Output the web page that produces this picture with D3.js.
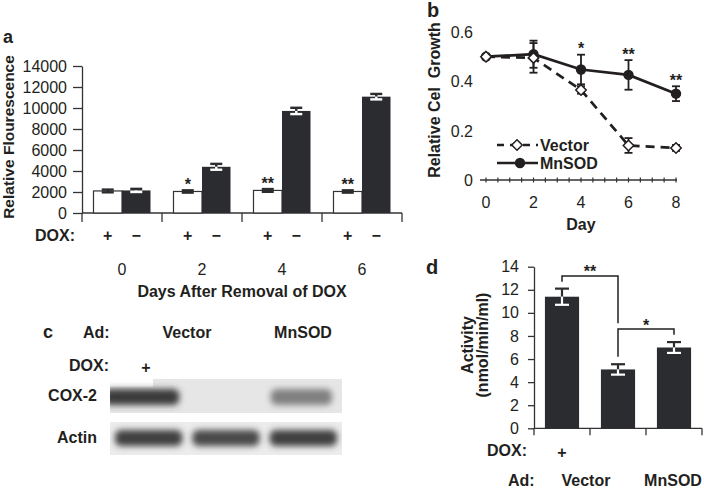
<!DOCTYPE html>
<html><head><meta charset="utf-8">
<script src="https://cdn.jsdelivr.net/npm/d3@7"></script>
<style>
body{margin:0;background:#fff}
svg{display:block}
text{font-family:"Liberation Sans",Arial,Helvetica,sans-serif;fill:#231f20}
</style></head><body>
<svg id="c" width="704" height="488"></svg>
<script>
// ---------- Panel a data ----------
const daysA = ["0","2","4","6"];
const doxA = ["+","\u2212"];
const fluorPlus = [2100,2050,2150,2050];
const fluorPlusErr = [130,110,130,110];
const fluorMinus = [2150,4400,9720,11080];
const fluorMinusErr = [150,280,300,260];
const sigA = ["","*","**","**"];
const fluorTicks = [0,2000,4000,6000,8000,10000,12000,14000];

// ---------- Panel b data ----------
const daysB = [0,2,4,6,8];
const growthVector = [0.50,0.495,0.365,0.14,0.13];
const growthVectorErr = [0,0.06,0.015,0.03,0.012];
const growthMnSOD = [0.50,0.51,0.448,0.426,0.35];
const growthMnSODErr = [0,0.055,0.06,0.06,0.03];
const sigB = ["","","*","**","**"];
const growthTicks = [0,0.2,0.4,0.6];
const dayTicks = [0,2,4,6,8];

// ---------- Panel c data ----------
const lanesC = ["Vector +DOX","Vector","MnSOD"];
const cox2Band = [0.92,0.0,0.55];
const actinBand = [0.9,0.85,0.9];

// ---------- Panel d data ----------
const groupsD = ["Vector +DOX","Vector","MnSOD"];
const activity = [11.4,5.1,7.0];
const activityErr = [0.7,0.45,0.47];
const activityTicks = [0,2,4,6,8,10,12,14];
const bracketsD = [
  {a:0,b:1,level:13.2,endA:12.7,endB:9.1,label:"**"},
  {a:1,b:2,level:8.6,endA:6.2,endB:8.1,label:"*"}
];

const INK = "#231f20", BAR = "#2b2c2f", AX = "#333";
const svg = d3.select("#c");
svg.append("rect").attr("width",704).attr("height",488).attr("fill","#fff");
const defs = svg.append("defs");
defs.append("filter").attr("id","blur").attr("x","-30%").attr("y","-60%").attr("width","160%").attr("height","220%")
  .append("feGaussianBlur").attr("stdDeviation",3.2);

function txt(g,x,y,s,opts={}){
  const t=g.append("text").attr("x",x).attr("y",y).text(s)
    .style("font-size",(opts.size||16)+"px").attr("font-weight",opts.bold?"bold":"normal")
    .attr("text-anchor",opts.anchor||"start");
  if(opts.rot) t.attr("transform",`rotate(-90,${x},${y})`);
  return t;
}
function errBar(g,x,yTop,yMid,yBot,capW,cTop,cBot,sw){
  g.append("line").attr("x1",x).attr("x2",x).attr("y1",yTop).attr("y2",yMid).attr("stroke",cTop).attr("stroke-width",sw);
  g.append("line").attr("x1",x-capW/2).attr("x2",x+capW/2).attr("y1",yTop).attr("y2",yTop).attr("stroke",cTop).attr("stroke-width",sw);
  g.append("line").attr("x1",x).attr("x2",x).attr("y1",yMid).attr("y2",yBot).attr("stroke",cBot).attr("stroke-width",sw);
  g.append("line").attr("x1",x-capW/2).attr("x2",x+capW/2).attr("y1",yBot).attr("y2",yBot).attr("stroke",cBot).attr("stroke-width",sw);
}

// ================= Panel a =================
(function(){
  const g = svg.append("g");
  const yA = d3.scaleLinear().domain([0,14000]).range([213,66]);
  const xA = d3.scaleBand().domain(daysA).range([82,402]);
  const xA1 = d3.scaleBand().domain(doxA).range([11.5,68.5]);
  const ax = g.append("g").attr("transform","translate(82,0)")
    .call(d3.axisLeft(yA).tickValues(fluorTicks).tickSize(9).tickPadding(6).tickSizeOuter(0).tickFormat(d3.format("d")));
  ax.attr("font-size",null).attr("font-family",null);
  ax.selectAll("path,line").attr("stroke",AX).attr("stroke-width",1.3);
  ax.selectAll("text").style("font-size","16px").attr("fill",INK);
  // x axis
  g.append("line").attr("x1",82).attr("x2",402).attr("y1",213).attr("y2",213).attr("stroke",AX).attr("stroke-width",1.3);
  const bounds = daysA.map(d=>xA(d)).concat([xA.range()[1]]);
  bounds.forEach(b=>g.append("line").attr("x1",b).attr("x2",b).attr("y1",213).attr("y2",222).attr("stroke",AX).attr("stroke-width",1.3));
  daysA.forEach((d,i)=>{
    const x0 = xA(d), bw = xA1.bandwidth();
    const xp = x0+xA1("+"), xm = x0+xA1("\u2212");
    g.append("rect").attr("x",xp).attr("y",yA(fluorPlus[i])).attr("width",bw).attr("height",yA(0)-yA(fluorPlus[i]))
      .attr("fill","#fff").attr("stroke",AX).attr("stroke-width",1.2);
    g.append("rect").attr("x",xm).attr("y",yA(fluorMinus[i])).attr("width",bw).attr("height",yA(0)-yA(fluorMinus[i]))
      .attr("fill",BAR);
    errBar(g,xp+bw/2,yA(fluorPlus[i]+fluorPlusErr[i]),yA(fluorPlus[i]),yA(fluorPlus[i]-fluorPlusErr[i]),12,BAR,BAR,2.4);
    errBar(g,xm+bw/2,yA(fluorMinus[i]+fluorMinusErr[i]),yA(fluorMinus[i]),yA(fluorMinus[i]-fluorMinusErr[i]),12,BAR,"#fff",2.4);
    if(sigA[i]) txt(g,xp+bw/2,yA(fluorPlus[i]+fluorPlusErr[i])-0.5,sigA[i],{bold:true,anchor:"middle"});
    txt(g,xp+bw/2,241,"+",{bold:true,anchor:"middle"});
    txt(g,xm+bw/2,241,"\u2212",{bold:true,anchor:"middle"});
    txt(g,x0+xA.bandwidth()/2,275,d,{anchor:"middle"});
  });
  txt(g,35,241,"DOX:",{bold:true});
  txt(g,242,297,"Days After Removal of DOX",{bold:true,anchor:"middle"});
  txt(g,14,137,"Relative Flourescence",{bold:true,anchor:"middle",rot:true,size:15.5});
  txt(g,8,43,"a",{bold:true,anchor:"middle",size:18});
})();

// ================= Panel b =================
(function(){
  const g = svg.append("g");
  const xB = d3.scaleLinear().domain([0,8]).range([486,676]);
  const yB = d3.scaleLinear().domain([0,0.6]).range([180,32]);
  g.append("line").attr("x1",480).attr("x2",677).attr("y1",yB(0)).attr("y2",yB(0)).attr("stroke",AX).attr("stroke-width",1.3);
  d3.range(0,8.01,0.5).forEach(t=>g.append("line").attr("x1",xB(t)).attr("x2",xB(t)).attr("y1",yB(0)-2.5).attr("y2",yB(0)+2.5).attr("stroke",AX).attr("stroke-width",1.2));
  dayTicks.forEach(t=>txt(g,xB(t),208,String(t),{anchor:"middle"}));
  growthTicks.forEach(t=>txt(g,473,yB(t)+6,t===0?"0":d3.format(".1f")(t),{anchor:"end"}));
  const line = d3.line().x((d,i)=>xB(daysB[i])).y(d=>yB(d));
  g.append("path").attr("d",line(growthMnSOD)).attr("fill","none").attr("stroke",INK).attr("stroke-width",2.7);
  g.append("path").attr("d",line(growthVector)).attr("fill","none").attr("stroke",INK).attr("stroke-width",2.7).attr("stroke-dasharray","9,6");
  daysB.forEach((d,i)=>{
    const x=xB(d);
    if(growthMnSODErr[i]) errBar(g,x,yB(growthMnSOD[i]+growthMnSODErr[i]),yB(growthMnSOD[i]),yB(growthMnSOD[i]-growthMnSODErr[i]),8,INK,INK,1.8);
    if(growthVectorErr[i]) errBar(g,x,yB(growthVector[i]+growthVectorErr[i]),yB(growthVector[i]),yB(growthVector[i]-growthVectorErr[i]),8,INK,INK,1.8);
  });
  const diamond = d3.symbol().type(d3.symbolDiamond2).size(70);
  daysB.forEach((d,i)=>{
    g.append("circle").attr("cx",xB(d)).attr("cy",yB(growthMnSOD[i])).attr("r",5.2).attr("fill",INK);
  });
  daysB.forEach((d,i)=>{
    g.append("path").attr("d",diamond()).attr("transform",`translate(${xB(d)},${yB(growthVector[i])})`)
      .attr("fill","#fff").attr("stroke",INK).attr("stroke-width",1.5);
    if(sigB[i]) txt(g,xB(d),yB(growthMnSOD[i]+growthMnSODErr[i])-0.5,sigB[i],{bold:true,anchor:"middle"});
  });
  // legend
  g.append("line").attr("x1",497).attr("x2",538).attr("y1",145).attr("y2",145).attr("stroke",INK).attr("stroke-width",2.7).attr("stroke-dasharray","7,6");
  g.append("path").attr("d",diamond()).attr("transform","translate(517,145)").attr("fill","#fff").attr("stroke",INK).attr("stroke-width",1.5);
  txt(g,540,151,"Vector",{bold:true});
  g.append("line").attr("x1",497).attr("x2",538).attr("y1",163).attr("y2",163).attr("stroke",INK).attr("stroke-width",2.7);
  g.append("circle").attr("cx",520).attr("cy",163).attr("r",5.2).attr("fill",INK);
  txt(g,540,169,"MnSOD",{bold:true});
  txt(g,581,230,"Day",{bold:true,anchor:"middle"});
  txt(g,440,100,"Relative Cel  Growth",{bold:true,anchor:"middle",rot:true,size:16}).style("white-space","pre");
  txt(g,433,17,"b",{bold:true,anchor:"middle",size:20});
})();

// ================= Panel c =================
(function(){
  const g = svg.append("g");
  const xC = d3.scaleBand().domain(lanesC).range([110,342]);
  const shade = d3.interpolateRgb("#e6e6e6","#2c2c2c");
  defs.append("clipPath").attr("id","clipCox").append("rect").attr("x",110).attr("y",379).attr("width",232).attr("height",34);
  defs.append("clipPath").attr("id","clipAct").append("rect").attr("x",110).attr("y",422).attr("width",232).attr("height",33);
  g.append("rect").attr("x",110).attr("y",379).attr("width",232).attr("height",34).attr("fill","#e6e6e6");
  g.append("rect").attr("x",110).attr("y",379).attr("width",43).attr("height",8).attr("fill","#fff");
  g.append("rect").attr("x",110).attr("y",422).attr("width",232).attr("height",33).attr("fill","#ececec");
  const gc = g.append("g").attr("clip-path","url(#clipCox)");
  lanesC.forEach((l,i)=>{
    if(cox2Band[i]>0.05)
      gc.append("rect").attr("x",xC(l)+(i===0?-6:6)).attr("y",389).attr("width",xC.bandwidth()-(i===0?2:16)).attr("height",16).attr("rx",6)
        .attr("fill",shade(cox2Band[i])).attr("filter","url(#blur)");
  });
  const ga = g.append("g").attr("clip-path","url(#clipAct)");
  lanesC.forEach((l,i)=>{
    ga.append("rect").attr("x",xC(l)+5).attr("y",430).attr("width",xC.bandwidth()-10).attr("height",16).attr("rx",6)
      .attr("fill",shade(actinBand[i])).attr("filter","url(#blur)");
  });
  txt(g,48,338,"c",{bold:true,anchor:"middle",size:18});
  txt(g,83,338,"Ad:",{bold:true});
  txt(g,187,338,"Vector",{bold:true,anchor:"middle"});
  txt(g,303,338,"MnSOD",{bold:true,anchor:"middle"});
  txt(g,69,371,"DOX:",{bold:true});
  txt(g,146,373,"+",{bold:true,anchor:"middle"});
  txt(g,97,401,"COX-2",{bold:true,anchor:"end"});
  txt(g,97,443,"Actin",{bold:true,anchor:"end"});
})();

// ================= Panel d =================
(function(){
  const g = svg.append("g");
  const yD = d3.scaleLinear().domain([0,14]).range([428.3,266.7]);
  const xD = d3.scaleBand().domain(groupsD).range([534,702]).paddingInner(0.39).paddingOuter(0.195);
  const ax = g.append("g").attr("transform","translate(534,0)")
    .call(d3.axisLeft(yD).tickValues(activityTicks).tickSize(6).tickPadding(9).tickSizeOuter(0));
  ax.attr("font-size",null).attr("font-family",null);
  ax.selectAll("path,line").attr("stroke",AX).attr("stroke-width",1.3);
  ax.selectAll("text").style("font-size","16px").attr("fill",INK);
  g.append("line").attr("x1",534).attr("x2",702).attr("y1",yD(0)).attr("y2",yD(0)).attr("stroke",AX).attr("stroke-width",1.3);
  const step = xD.step();
  groupsD.forEach((d,i)=>{
    const b = 534+step*(i+1);
    g.append("line").attr("x1",b).attr("x2",b).attr("y1",yD(0)).attr("y2",yD(0)+7).attr("stroke",AX).attr("stroke-width",1.3);
  });
  g.append("line").attr("x1",534).attr("x2",534).attr("y1",yD(0)).attr("y2",yD(0)+7).attr("stroke",AX).attr("stroke-width",1.3);
  const cx = i => xD(groupsD[i])+xD.bandwidth()/2;
  groupsD.forEach((d,i)=>{
    g.append("rect").attr("x",xD(d)).attr("y",yD(activity[i])).attr("width",xD.bandwidth()).attr("height",yD(0)-yD(activity[i])).attr("fill",BAR);
    errBar(g,cx(i),yD(activity[i]+activityErr[i]),yD(activity[i]),yD(activity[i]-activityErr[i]),14,BAR,"#fff",2.2);
  });
  bracketsD.forEach(br=>{
    const xa=cx(br.a), xb=cx(br.b);
    g.append("path").attr("d",`M${xa},${yD(br.endA)}V${yD(br.level)}H${xb}V${yD(br.endB)}`)
      .attr("fill","none").attr("stroke",INK).attr("stroke-width",1.5);
    txt(g,(xa+xb)/2,yD(br.level)+1.5,br.label,{bold:true,anchor:"middle"});
  });
  txt(g,432,274,"d",{bold:true,anchor:"middle",size:20});
  txt(g,473,345,"Activity",{bold:true,anchor:"middle",rot:true});
  txt(g,488,345,"(nmol/min/ml)",{bold:true,anchor:"middle",rot:true});
  txt(g,487,456,"DOX:",{bold:true});
  txt(g,cx(0),458,"+",{bold:true,anchor:"middle"});
  txt(g,508,486,"Ad:",{bold:true});
  txt(g,586,486,"Vector",{bold:true,anchor:"middle"});
  txt(g,673,486,"MnSOD",{bold:true,anchor:"middle"});
})();
</script></body></html>
